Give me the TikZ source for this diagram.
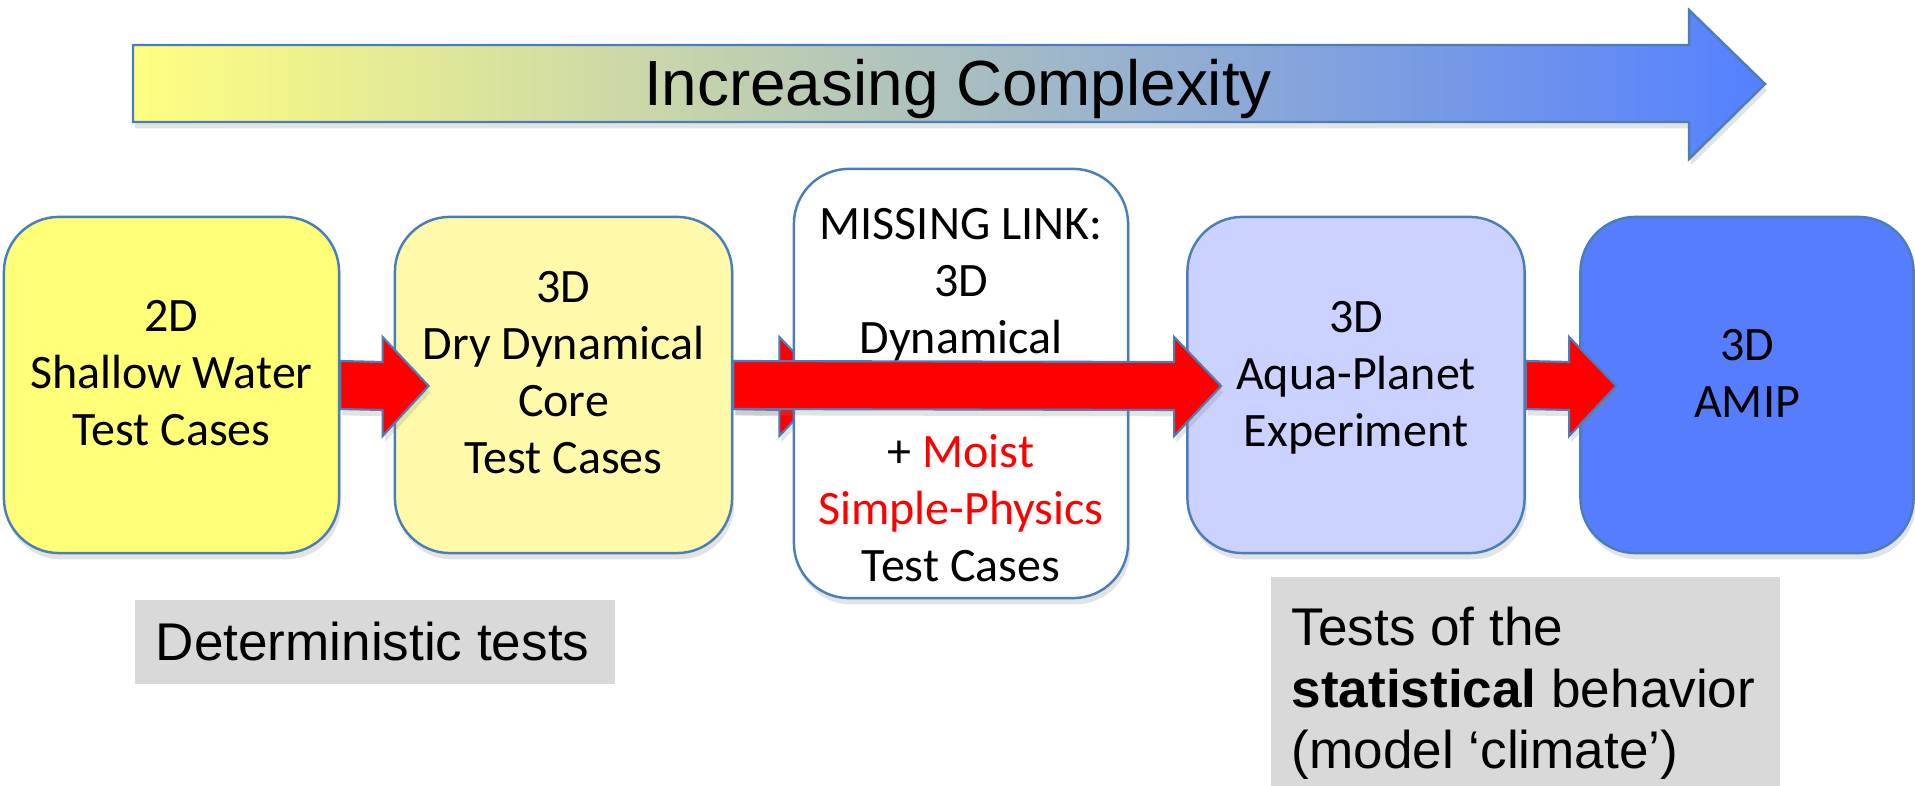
\documentclass[tikz,border=0pt]{standalone}
\usepackage{fontspec}
\setmainfont{Liberation Sans}
\newfontfamily\calibri{Carlito}
\usetikzlibrary{calc,shadows}
\definecolor{outl}{RGB}{74,126,187}
\definecolor{yelA}{RGB}{255,255,120}
\definecolor{yelB}{RGB}{255,250,170}
\definecolor{lav}{RGB}{204,210,255}
\definecolor{amip}{RGB}{86,125,254}
\definecolor{grayb}{RGB}{217,217,217}
\definecolor{gradL}{RGB}{255,255,128}
\definecolor{gradM}{RGB}{178,198,182}
\definecolor{gradR}{RGB}{85,128,255}
\definecolor{redf}{RGB}{255,0,0}
\tikzset{
  flowbox/.style={draw=outl, line width=0.7pt, rounded corners=0.55cm, inner sep=0pt,
    drop shadow={opacity=0.22, shadow xshift=0.6pt, shadow yshift=-1.8pt}},
  boxtext/.style={font=\calibri\fontsize{13.65pt}{16.2pt}\selectfont, align=center, inner sep=0pt},
  redarrow/.style={fill=redf, draw=outl, line width=0.6pt, line join=miter,
    drop shadow={opacity=0.22, shadow xshift=0.6pt, shadow yshift=-1.8pt}},
  graybox/.style={fill=grayb, inner sep=0pt, anchor=north west},
  graytext/.style={font=\fontsize{15.1pt}{17.6pt}\selectfont, inner sep=0pt}
}
\newcommand\fatarrow[3]{%
  \path[redarrow] ($(#1)+(0,-24)$) -- ($(#2)+(-#3,-24)$) -- ($(#2)+(-#3,-49)$) -- (#2)
    -- ($(#2)+(-#3,50)$) -- ($(#2)+(-#3,24)$) -- ($(#1)+(0,24)$) -- cycle;}
\begin{document}
\begin{tikzpicture}[x=0.01cm,y=-0.01cm]
\useasboundingbox (0,0) rectangle (1915,786);

% top gradient arrow
\shade[left color=gradL, middle color=gradM, right color=gradR, draw=outl, line width=0.7pt,
  drop shadow={opacity=0.22, shadow xshift=0.6pt, shadow yshift=-1.8pt}]
  (133,45) -- (1689,45) -- (1689,10) -- (1765,84) -- (1689,159) -- (1689,122) -- (133,122) -- cycle;
\node[anchor=base, font=\fontsize{18.15pt}{21pt}\selectfont, inner sep=0pt] (title) at (958,106) {Increasing Complexity};

% boxes 1 and 2
\node[flowbox, fill=yelA, minimum width=3.35cm, minimum height=3.36cm] (b1) at (171.5,385) {};
\node[flowbox, fill=yelB, minimum width=3.37cm, minimum height=3.36cm] (b2) at (563.5,385) {};
\node[boxtext] (t1) at (171.5,373) {2D\\Shallow Water\\Test Cases};
\node[boxtext] (t2) at (563.5,373) {3D\\Dry Dynamical\\Core\\Test Cases};

\coordinate (a1s) at (b1.east);
\coordinate (a1t) at ($(b2.west)+(35,1)$);
\fatarrow{a1s}{a1t}{46}
\coordinate (a2s) at (b2.east);
\coordinate (a2t) at ($(b2.east)+(93,1)$);
\fatarrow{a2s}{a2t}{47}

% box 3
\node[flowbox, fill=white, minimum width=3.34cm, minimum height=4.29cm] (b3) at (961,383.5) {};
\node[boxtext] (t3) at (961,395) {MISSING LINK:\\3D\\Dynamical\\[16.2pt]+ \textcolor{redf}{Moist}\\\textcolor{redf}{Simple-Physics}\\Test Cases};

% boxes 4 and 5
\node[flowbox, fill=lav, minimum width=3.37cm, minimum height=3.36cm] (b4) at (1356,385) {};
\node[boxtext] (t4) at (1356,377.5) {3D\\Aqua-Planet\\Experiment};
\node[flowbox, fill=amip, minimum width=3.33cm, minimum height=3.36cm] (b5) at (1747,385) {};
\node[boxtext] (t5) at (1747,373) {3D\\AMIP};

\coordinate (a3s) at (b2.east);
\coordinate (a3t) at ($(b4.west)+(35,1)$);
\fatarrow{a3s}{a3t}{47}
\coordinate (a4s) at (b4.east);
\coordinate (a4t) at ($(b5.west)+(37,1)$);
\fatarrow{a4s}{a4t}{47}

% gray label boxes
\node[graybox, minimum width=4.80cm, minimum height=0.84cm] (g1) at (134,599) {};
\node[graytext, anchor=base west] (gt1) at (155,661) {Deterministic tests};
\node[graybox, minimum width=5.09cm, minimum height=2.10cm] (g2) at (1270,576) {};
\node[graytext, anchor=north west, align=left] (gt2) at (1291,606) {Tests of the\\\textbf{statistical} behavior\\(model ‘climate’)};
\end{tikzpicture}
\end{document}
